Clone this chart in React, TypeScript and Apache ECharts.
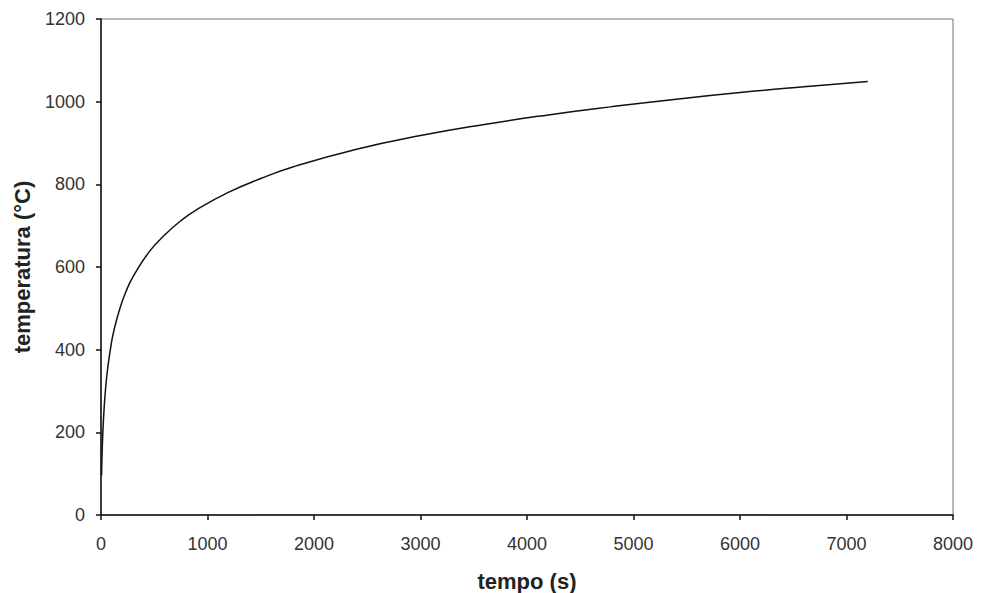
import React, { useEffect, useRef } from "react";
import * as echarts from "echarts";

const tempo = [5, 10, 20, 30, 45, 60, 90, 120, 180, 240, 300, 450, 600, 750, 900, 1200, 1500, 1800, 2400, 3000, 3600, 4200, 4800, 5400, 6000, 6600, 7200];
const temperatura = [96, 147, 215, 261, 312, 349, 404, 445, 502, 544, 576, 636, 678, 712, 739, 781, 814, 842, 885, 918, 945, 968, 988, 1006, 1022, 1036, 1049];
const xTicks = [0, 1000, 2000, 3000, 4000, 5000, 6000, 7000, 8000];
const yTicks = [0, 200, 400, 600, 800, 1000, 1200];

export default function App() {
  const ref = useRef<HTMLDivElement>(null);
  useEffect(() => {
    const chart = echarts.init(ref.current!, null, { renderer: "svg" });
    const font = "Liberation Sans, Arial, sans-serif";
    chart.setOption({
      animation: false,
      backgroundColor: "#fff",
      grid: {
        left: 101, right: 29, top: 19, bottom: 78,
        outerBoundsMode: "none", containLabel: false,
        show: true, borderColor: "#777", borderWidth: 1,
      },
      xAxis: {
        type: "value",
        min: xTicks[0],
        max: xTicks[xTicks.length - 1],
        interval: 1000,
        name: "tempo (s)",
        nameLocation: "middle",
        nameGap: 55,
        nameTextStyle: { fontFamily: font, fontWeight: "bold", fontSize: 22, color: "#222" },
        axisLine: { lineStyle: { color: "#111", width: 1.5 } },
        axisTick: { show: true, length: 5, lineStyle: { color: "#111", width: 1.5 } },
        axisLabel: { fontFamily: font, fontSize: 18, color: "#333", margin: 20, formatter: (v: number) => String(v) },
        splitLine: { show: false },
      },
      yAxis: {
        type: "value",
        min: yTicks[0],
        max: yTicks[yTicks.length - 1],
        interval: 200,
        name: "temperatura (°C)",
        nameLocation: "middle",
        nameGap: 68,
        nameTextStyle: { fontFamily: font, fontWeight: "bold", fontSize: 22, color: "#222" },
        axisLine: { lineStyle: { color: "#111", width: 1.5 } },
        axisTick: { show: true, length: 5, lineStyle: { color: "#111", width: 1.5 } },
        axisLabel: { fontFamily: font, fontSize: 18, color: "#333", margin: 16, formatter: (v: number) => String(v) },
        splitLine: { show: false },
      },
      series: [
        {
          type: "line",
          data: tempo.map((t, i) => [t, temperatura[i]]),
          smooth: true,
          showSymbol: false,
          lineStyle: { color: "#111", width: 1.5 },
        },
      ],
    });
    return () => chart.dispose();
  }, []);
  return <div ref={ref} style={{ width: 982, height: 593, position: "absolute", left: 0, top: 0 }} />;
}
